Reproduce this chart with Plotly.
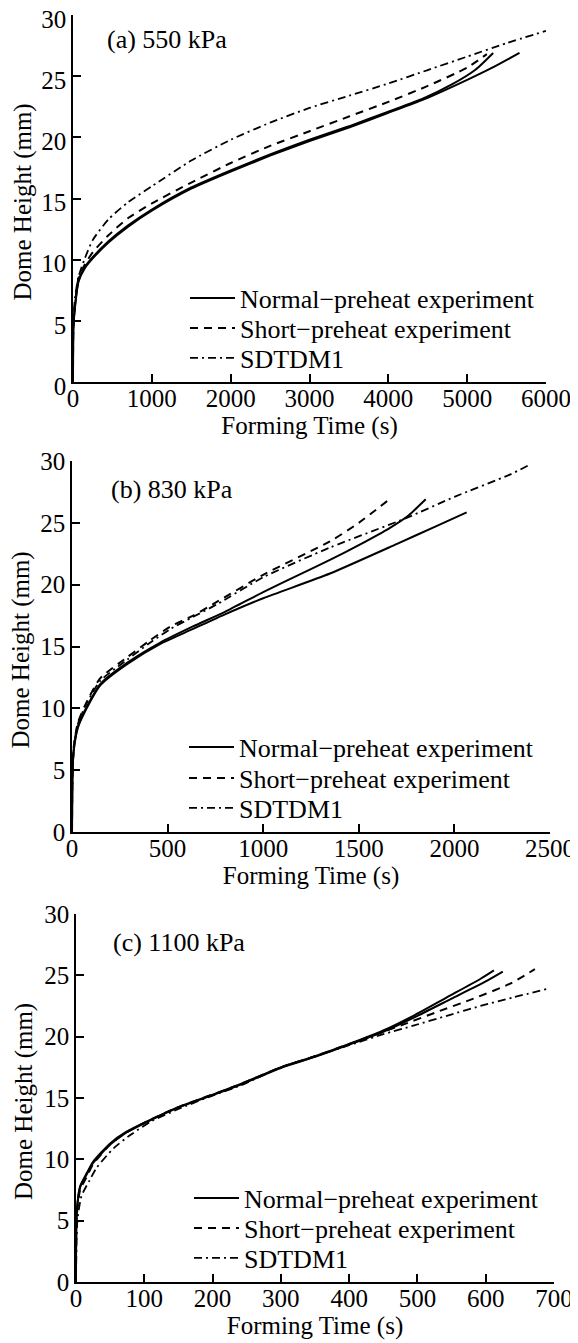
import plotly.graph_objects as go

# ---------------- Data ----------------
# (a) 550 kPa
a_normal1_t = [0, 5, 25, 70, 150, 250, 450, 700, 1000, 1500, 2000, 2500, 3000, 3500, 4000, 4450, 4800, 5100, 5330]
a_normal1_h = [0, 4.5, 6.2, 8.3, 9.4, 10.2, 11.5, 12.8, 14.1, 15.9, 17.3, 18.6, 19.8, 20.9, 22.1, 23.2, 24.3, 25.5, 26.9]
a_normal2_t = [0, 5, 25, 70, 150, 250, 450, 700, 1000, 1500, 2000, 2500, 3000, 3500, 4000, 4450, 5000, 5350, 5664]
a_normal2_h = [0, 4.4, 6.1, 8.2, 9.3, 10.1, 11.4, 12.7, 14.0, 15.8, 17.2, 18.5, 19.7, 20.8, 22.0, 23.1, 24.7, 25.8, 26.9]
a_short_t = [0, 5, 25, 70, 150, 250, 450, 700, 1000, 1500, 2000, 2500, 3000, 3500, 4000, 4500, 5000, 5250]
a_short_h = [0, 4.6, 6.4, 8.5, 9.6, 10.6, 12.0, 13.4, 14.6, 16.3, 17.9, 19.3, 20.5, 21.7, 22.9, 24.2, 25.7, 26.8]
a_sdtdm_t = [0, 5, 25, 70, 150, 250, 450, 700, 1000, 1500, 2000, 2500, 3000, 3500, 4000, 4500, 5000, 5500, 6000]
a_sdtdm_h = [0, 4.8, 6.9, 8.6, 10.1, 11.6, 13.3, 14.7, 16.0, 18.1, 19.8, 21.2, 22.4, 23.4, 24.4, 25.5, 26.6, 27.7, 28.7]

# (b) 830 kPa
b_normal1_t = [0, 3, 10, 30, 70, 150, 290, 460, 630, 800, 1000, 1200, 1349, 1500, 1663, 1760, 1850]
b_normal1_h = [0, 5.0, 6.8, 8.5, 9.9, 12.0, 13.7, 15.3, 16.6, 17.8, 19.4, 20.9, 22.0, 23.2, 24.6, 25.6, 26.9]
b_normal2_t = [0, 3, 10, 30, 70, 150, 290, 460, 630, 800, 1000, 1349, 1700, 1900, 2064]
b_normal2_h = [0, 4.9, 6.7, 8.4, 9.8, 11.9, 13.6, 15.2, 16.4, 17.6, 18.9, 20.9, 23.3, 24.7, 25.85]
b_short_t = [0, 3, 10, 30, 70, 146, 286, 408, 513, 634, 757, 1000, 1349, 1500, 1660]
b_short_h = [0, 5.1, 7.0, 8.8, 10.3, 12.4, 14.1, 15.5, 16.6, 17.5, 18.6, 20.8, 23.5, 25.0, 26.9]
b_sdtdm_t = [0, 3, 10, 30, 70, 146, 286, 408, 513, 634, 757, 1000, 1349, 1750, 2000, 2290, 2394]
b_sdtdm_h = [0, 5.0, 6.9, 8.7, 10.2, 12.2, 13.9, 15.3, 16.4, 17.4, 18.4, 20.6, 23.0, 25.4, 27.1, 28.9, 29.7]

# (c) 1100 kPa
c_normal1_t = [0, 1, 6, 16, 25, 50, 74, 108, 147, 196, 235, 300, 350, 400, 450, 494, 543, 592, 612]
c_normal1_h = [0, 5.6, 7.8, 8.9, 9.8, 11.3, 12.25, 13.2, 14.2, 15.2, 16.0, 17.5, 18.4, 19.4, 20.5, 21.7, 23.2, 24.7, 25.4]
c_normal2_t = [0, 1, 6, 16, 25, 50, 74, 108, 147, 196, 235, 300, 350, 400, 450, 500, 550, 600, 625]
c_normal2_h = [0, 5.5, 7.7, 8.8, 9.7, 11.2, 12.2, 13.15, 14.15, 15.15, 15.95, 17.45, 18.35, 19.35, 20.4, 21.7, 23.1, 24.5, 25.3]
c_short_t = [0, 1, 6, 16, 25, 50, 74, 108, 147, 196, 235, 300, 350, 400, 450, 480, 528, 582, 635, 672]
c_short_h = [0, 5.3, 7.5, 8.6, 9.6, 11.2, 12.2, 13.2, 14.2, 15.2, 16.0, 17.5, 18.4, 19.4, 20.4, 21.0, 22.0, 23.1, 24.3, 25.5]
c_sdtdm_t = [0, 2, 8, 20, 30, 55, 80, 110, 150, 200, 240, 300, 350, 400, 450, 494, 543, 592, 640, 691]
c_sdtdm_h = [0, 5.0, 7.0, 8.3, 9.3, 10.9, 12.0, 13.1, 14.1, 15.2, 16.0, 17.5, 18.4, 19.3, 20.2, 20.9, 21.7, 22.5, 23.2, 23.9]

panel_labels = ["(a) 550 kPa", "(b) 830 kPa", "(c) 1100 kPa"]
series_names = ["Normal\u2212preheat experiment", "Short\u2212preheat experiment", "SDTDM1"]
x_title = "Forming Time (s)"
y_title = "Dome Height (mm)"
x_ranges = [[0, 6000], [0, 2500], [0, 700]]
x_dticks = [1000, 500, 100]

panels = [
    [(a_normal1_t, a_normal1_h, 0), (a_normal2_t, a_normal2_h, 0), (a_short_t, a_short_h, 1), (a_sdtdm_t, a_sdtdm_h, 2)],
    [(b_normal1_t, b_normal1_h, 0), (b_normal2_t, b_normal2_h, 0), (b_short_t, b_short_h, 1), (b_sdtdm_t, b_sdtdm_h, 2)],
    [(c_normal1_t, c_normal1_h, 0), (c_normal2_t, c_normal2_h, 0), (c_short_t, c_short_h, 1), (c_sdtdm_t, c_sdtdm_h, 2)],
]

# ---------------- Styles ----------------
FONT = "Liberation Serif, Times New Roman, serif"
dashes = ["solid", "8px,6px", "8px,4px,2px,4px"]
widths = [2.0, 2.0, 1.8]

# the page body has an 8px margin, so the figure starts at (8, 8) of the window
OFF = 8
W, H = 578 - OFF, 1343 - OFF
ML, MR, MT, MB = 64, 24, 7, 61
PW, PH = W - ML - MR, H - MT - MB

def px_x(p):  # window pixel -> paper x
    return (p - OFF - ML) / PW

def px_y(p):  # window pixel -> paper y
    return 1 - (p - OFF - MT) / PH

# plot rectangles in window pixels: (x0, x1, ytop, ybottom)
rects = [(73, 546, 15, 382), (72, 550, 461, 832), (76, 554, 914, 1282)]
legend_x = [185, 184, 189]
legend_rows = [(298, 328, 358), (747, 778, 808), (1198, 1228, 1258)]
label_pos = [(105, 40), (109, 489), (111, 942)]
ytitle_x = [23, 21, 24]
ylabel_shift = [4, 0, 0]

fig = go.Figure()

for i, traces in enumerate(panels):
    xa = "x" if i == 0 else f"x{i+1}"
    ya = "y" if i == 0 else f"y{i+1}"
    shown = set()
    for t, h, k in traces:
        n = i * 3 + k + 1
        lg = "legend" if n == 1 else f"legend{n}"
        fig.add_trace(go.Scatter(
            x=t, y=h, mode="lines", xaxis=xa, yaxis=ya,
            name=series_names[k], legend=lg,
            showlegend=k not in shown,
            line=dict(color="black", width=widths[k], dash=dashes[k], shape="spline", smoothing=0.6),
        ))
        shown.add(k)

layout = dict(
    template="none",
    width=W, height=H,
    margin=dict(l=ML, r=MR, t=MT, b=MB, autoexpand=False),
    paper_bgcolor="white", plot_bgcolor="white",
    font=dict(family=FONT, size=25, color="black"),
    annotations=[],
)

for i in range(3):
    x0, x1, yt, yb = rects[i]
    sx = "" if i == 0 else str(i + 1)
    axis_common = dict(
        showline=True, linecolor="black", linewidth=1.5,
        ticks="inside", ticklen=8, tickwidth=1.5, tickcolor="black",
        showgrid=False, zeroline=False, mirror=False, automargin=False,
        ticklabeloverflow="allow",
        tickfont=dict(family=FONT, size=25, color="black"),
    )
    layout["xaxis" + sx] = dict(
        axis_common, domain=[px_x(x0), px_x(x1)], range=x_ranges[i],
        dtick=x_dticks[i], tick0=0, anchor="y" + sx, ticklabelstandoff=-7,
        title=dict(text=x_title, font=dict(family=FONT, size=25), standoff=4),
    )
    layout["yaxis" + sx] = dict(
        axis_common, domain=[px_y(yb), px_y(yt)], range=[0, 30],
        dtick=5, tick0=0, anchor="x" + sx, ticklabelshift=ylabel_shift[i],
    )
    for k in range(3):
        n = i * 3 + k + 1
        layout["legend" if n == 1 else f"legend{n}"] = dict(
            x=px_x(legend_x[i]), y=px_y(legend_rows[i][k]), xanchor="left", yanchor="middle",
            bgcolor="rgba(0,0,0,0)", borderwidth=0,
            font=dict(family=FONT, size=26, color="black"),
            itemwidth=45, tracegroupgap=0,
        )
    ax, ay = label_pos[i]
    layout["annotations"].append(dict(
        text=panel_labels[i], xref="paper", yref="paper",
        x=px_x(ax), y=px_y(ay), xanchor="left", yanchor="middle",
        showarrow=False, font=dict(family=FONT, size=26, color="black"),
    ))
    # y-axis title
    layout["annotations"].append(dict(
        text=y_title, xref="paper", yref="paper", textangle=-90,
        x=px_x(ytitle_x[i]), y=px_y((yt + yb) / 2 + 4), xanchor="center", yanchor="middle",
        showarrow=False, font=dict(family=FONT, size=25, color="black"),
    ))

fig.update_layout(**layout)
fig.write_html("out.html")
